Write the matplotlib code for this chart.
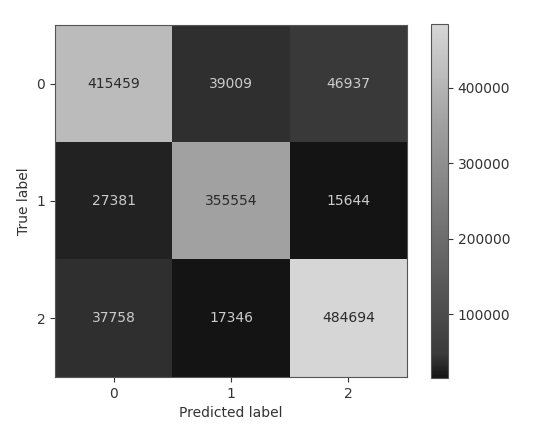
import numpy as np
import matplotlib
matplotlib.use("Agg")
import matplotlib.pyplot as plt
from matplotlib.colors import LinearSegmentedColormap

labels = ["0", "1", "2"]
cm = np.array([
    [415459, 39009, 46937],
    [27381, 355554, 15644],
    [37758, 17346, 484694],
])
cbar_ticks = [100000, 200000, 300000, 400000]

# washed-out grey map, like the screenshot (dark end lifted)
cmap = LinearSegmentedColormap.from_list("grey_soft", [
    (0.0, "#141414"),
    (0.025, "#232323"),
    (0.067, "#3a3a3a"),
    (0.725, "#a1a1a1"),
    (0.852, "#bbbbbb"),
    (1.0, "#d6d6d6"),
])
dark_txt = "#2a2a2a"
light_txt = "#cccccc"

fig = plt.figure(figsize=(5.5, 4.32), dpi=100)
ax = fig.add_axes([55 / 550, 54 / 432, 352 / 550, 354 / 432])
cax = fig.add_axes([431 / 550, 54 / 432, 17 / 550, 354 / 432])

im = ax.imshow(cm, cmap=cmap, interpolation="nearest")
thresh = (cm.max() + cm.min()) / 2.0
for i in range(cm.shape[0]):
    for j in range(cm.shape[1]):
        c = dark_txt if cm[i, j] > thresh else light_txt
        ax.text(j, i, str(cm[i, j]), ha="center", va="center", color=c, fontsize=10)

ax.set_xticks(range(len(labels)))
ax.set_yticks(range(len(labels)))
ax.set_xticklabels(labels)
ax.set_yticklabels(labels)
ax.set_xlabel("Predicted label", color="#333333")
ax.set_ylabel("True label", color="#333333")
ax.tick_params(colors="#333333")
for s in ax.spines.values():
    s.set_color("#555555")

cb = fig.colorbar(im, cax=cax)
cb.set_ticks(cbar_ticks)
cb.ax.tick_params(colors="#333333")
cb.outline.set_edgecolor("#555555")

fig.savefig("out.png", dpi=100)
